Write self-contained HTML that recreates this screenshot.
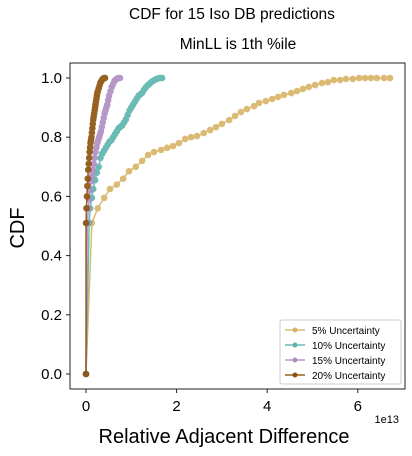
<!DOCTYPE html>
<html><head><meta charset="utf-8"><style>
body{margin:0;background:#fff;width:412px;height:451px;overflow:hidden}
svg text{font-family:"Liberation Sans","DejaVu Sans",sans-serif}
</style></head><body>
<svg id="chart" width="412" height="451">
<text x="232" y="19" text-anchor="middle" font-size="15.5">CDF for 15 Iso DB predictions</text>
<text x="238" y="49" text-anchor="middle" font-size="15.5">MinLL is 1th %ile</text>
<g id="plot"></g>
<rect x="70" y="63" width="335" height="326" fill="none" stroke="#222" stroke-width="1"/>
<g id="axes"></g>
<text x="399" y="423" text-anchor="end" font-size="11">1e13</text>
<text x="224" y="443" text-anchor="middle" font-size="20">Relative Adjacent Difference</text>
<text transform="translate(24,228) rotate(-90)" text-anchor="middle" font-size="20">CDF</text>
<g>
<rect x="280" y="320" width="121" height="64" rx="2" fill="#fff" stroke="#ccc"/>
<g id="legend"></g>
</g>
</svg>
<script>
const xTicks=[0,2,4,6];
const yTicks=[0.0,0.2,0.4,0.6,0.8,1.0];
const seriesNames=["5% Uncertainty","10% Uncertainty","15% Uncertainty","20% Uncertainty"];
const seriesColors=["#d8b365","#5ab4ac","#af8dc3","#8c510a"];
const x5=[0,0.13,0.26,0.40,0.53,0.68,0.82,0.95,1.10,1.24,1.37,1.50,1.66,1.79,1.92,2.05,2.19,2.32,2.45,2.60,2.74,2.87,3.00,3.16,3.29,3.42,3.55,3.71,3.82,3.97,4.11,4.24,4.37,4.53,4.66,4.79,4.92,5.06,5.21,5.34,5.47,5.61,5.74,5.89,6.03,6.16,6.29,6.42,6.58,6.71];
const y5=[0,0.51,0.56,0.595,0.625,0.64,0.66,0.685,0.70,0.72,0.74,0.75,0.757,0.764,0.77,0.78,0.794,0.80,0.804,0.814,0.824,0.834,0.845,0.858,0.872,0.885,0.895,0.905,0.916,0.922,0.929,0.936,0.943,0.949,0.956,0.963,0.970,0.976,0.983,0.986,0.993,0.993,0.997,0.997,1.0,1.0,1.0,1.0,1.0,1.0];
const x10=[0,0.07,0.09,0.13,0.16,0.20,0.24,0.28,0.32,0.36,0.40,0.44,0.48,0.52,0.56,0.60,0.64,0.68,0.72,0.76,0.80,0.84,0.88,0.92,0.96,1.00,1.04,1.08,1.12,1.16,1.20,1.24,1.28,1.32,1.36,1.40,1.44,1.48,1.52,1.56,1.60,1.64,1.68];
const y10=[0,0.51,0.56,0.595,0.625,0.655,0.68,0.70,0.73,0.745,0.755,0.765,0.775,0.785,0.79,0.80,0.81,0.82,0.83,0.835,0.84,0.85,0.86,0.875,0.89,0.90,0.91,0.92,0.93,0.94,0.945,0.95,0.96,0.968,0.975,0.98,0.986,0.99,0.994,0.997,0.999,1.0,1.0];
const x15=[0,0.03,0.05,0.07,0.09,0.11,0.13,0.15,0.17,0.19,0.21,0.23,0.25,0.27,0.29,0.31,0.33,0.35,0.37,0.39,0.41,0.43,0.45,0.47,0.49,0.51,0.54,0.57,0.60,0.63,0.66,0.69,0.72,0.75];
const y15=[0,0.51,0.56,0.59,0.62,0.65,0.67,0.69,0.71,0.73,0.75,0.765,0.78,0.79,0.80,0.81,0.82,0.835,0.85,0.865,0.88,0.89,0.90,0.91,0.925,0.94,0.955,0.97,0.98,0.99,0.995,0.998,1.0,1.0];
const x20=[0,0.0,0.01,0.02,0.03,0.04,0.05,0.06,0.07,0.08,0.09,0.10,0.11,0.12,0.13,0.14,0.15,0.16,0.17,0.18,0.19,0.20,0.21,0.22,0.23,0.24,0.25,0.26,0.28,0.30,0.32,0.34,0.36,0.38,0.40,0.42];
const y20=[0,0.51,0.56,0.60,0.635,0.66,0.69,0.71,0.73,0.75,0.765,0.78,0.79,0.80,0.815,0.83,0.845,0.86,0.87,0.88,0.89,0.90,0.91,0.92,0.93,0.94,0.95,0.955,0.965,0.975,0.985,0.99,0.995,0.998,1.0,1.0];
const seriesX=[x5,x10,x15,x20];
const seriesY=[y5,y10,y15,y20];
const NS="http://www.w3.org/2000/svg";
function sx(v){return 86+v*45.3;}
function sy(v){return 374-v*296;}
function mk(tag,attrs,parent){const e=document.createElementNS(NS,tag);for(const k in attrs)e.setAttribute(k,attrs[k]);parent.appendChild(e);return e;}
const axes=document.getElementById("axes");
xTicks.forEach(t=>{
  const l=mk("line",{x1:sx(t),x2:sx(t),y1:389,y2:393,stroke:"#222"},axes);
  
  
  const tx=mk("text",{x:sx(t),y:411,"text-anchor":"middle","font-size":"15"},axes);
  tx.textContent=t;
  
  
});
yTicks.forEach(t=>{
  const l=mk("line",{x1:66,x2:70,y1:sy(t),y2:sy(t),stroke:"#222"},axes);
  
  
  const tx=mk("text",{x:62,y:sy(t)+5,"text-anchor":"end","font-size":"15"},axes);
  tx.textContent=t.toFixed(1);
  
  
});
const plot=document.getElementById("plot");
seriesX.forEach((xs,i)=>{
  const g=mk("g",{opacity:"0.9"},plot);
  
  
  const pts=xs.map((x,j)=>sx(x)+","+sy(seriesY[i][j])).join(" ");
  const pl=mk("polyline",{points:pts,fill:"none",stroke:seriesColors[i],"stroke-width":"1.5"},g);
  
  
  xs.forEach((x,j)=>{
    const c=mk("circle",{cx:sx(x),cy:sy(seriesY[i][j]),r:"3.3",fill:seriesColors[i]},g);
    
    
  });
});
const leg=document.getElementById("legend");
seriesNames.forEach((n,i)=>{
  const y=330+i*15;
  const g=mk("g",{},leg);
  
  
  mk("line",{x1:285,x2:305,y1:y,y2:y,stroke:seriesColors[i],"stroke-width":"1.5",opacity:"0.9"},g);
  mk("circle",{cx:295,cy:y,r:"2.5",fill:seriesColors[i]},g);
  const t=mk("text",{x:312,y:y+4,"font-size":"10"},g);
  t.textContent=n;
});
</script>
</body></html>
